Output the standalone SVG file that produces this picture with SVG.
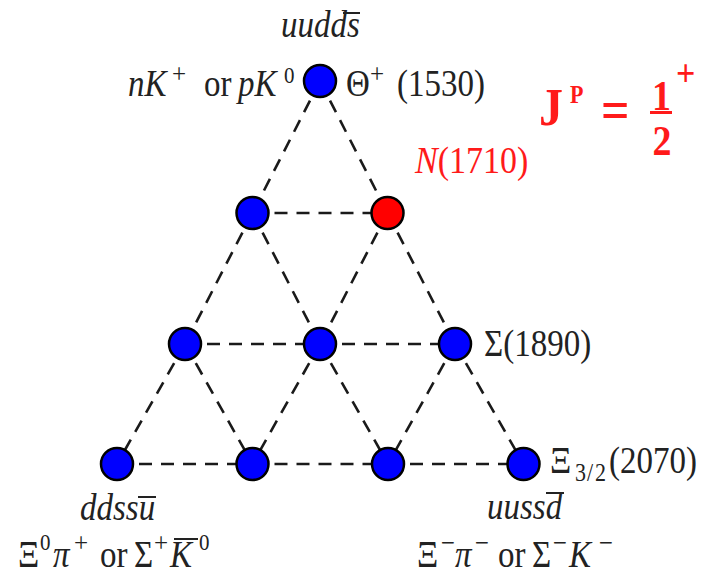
<svg xmlns="http://www.w3.org/2000/svg" width="703" height="577" viewBox="0 0 703 577">
<style>
.edge{stroke:#1a1a1a;stroke-width:2.6;stroke-dasharray:13 9;fill:none}
.node{fill:#0000ff;stroke:#000;stroke-width:2.5}
.red{fill:#ff0000}
.it{font-style:italic}
.rd{fill:#ff1a1a}
.b{font-weight:bold}
.ol{stroke:#222;stroke-width:2}
.f{font-family:"Liberation Serif","Times New Roman",serif}
</style>
<rect width="703" height="577" fill="#fff"/>
<g id="connectors">
<line class="edge" x1="320" y1="81" x2="252.5" y2="213"/>
<line class="edge" x1="320" y1="81" x2="387.5" y2="213"/>
<line class="edge" x1="252.5" y1="213" x2="387.5" y2="213"/>
<line class="edge" x1="252.5" y1="213" x2="185" y2="344"/>
<line class="edge" x1="252.5" y1="213" x2="320" y2="344"/>
<line class="edge" x1="387.5" y1="213" x2="320" y2="344"/>
<line class="edge" x1="387.5" y1="213" x2="455" y2="344"/>
<line class="edge" x1="185" y1="344" x2="320" y2="344"/>
<line class="edge" x1="320" y1="344" x2="455" y2="344"/>
<line class="edge" x1="185" y1="344" x2="117" y2="464"/>
<line class="edge" x1="185" y1="344" x2="252.5" y2="464"/>
<line class="edge" x1="320" y1="344" x2="252.5" y2="464"/>
<line class="edge" x1="320" y1="344" x2="388" y2="464"/>
<line class="edge" x1="455" y1="344" x2="388" y2="464"/>
<line class="edge" x1="455" y1="344" x2="523.5" y2="464"/>
<line class="edge" x1="117" y1="464" x2="252.5" y2="464"/>
<line class="edge" x1="252.5" y1="464" x2="388" y2="464"/>
<line class="edge" x1="388" y1="464" x2="523.5" y2="464"/>
</g>
<g class="f" font-size="33" fill="#222">
<g id="theta">
<circle class="node" cx="320" cy="81" r="16"/>
<text transform="translate(0,37) scale(1,1.12)" class="it"><tspan x="281">uudds</tspan></text>
<line class="ol" x1="343" y1="13" x2="360" y2="13"/>
<text transform="translate(0,96) scale(1,1.12)"><tspan x="128" class="it">nK</tspan><tspan x="172" dy="-12" font-size="25">+</tspan><tspan x="204" dy="12">or</tspan><tspan x="238" class="it">pK</tspan><tspan x="284" dy="-12" font-size="21">0</tspan></text>
<text transform="translate(0,96) scale(1,1.12)"><tspan x="346">Θ</tspan><tspan x="370" dy="-12" font-size="25">+</tspan><tspan x="397" dy="12">(1530)</tspan></text>
</g>
<g id="n-left"><circle class="node" cx="252.5" cy="213" r="16"/></g>
<g id="n1710">
<circle class="node red" cx="387.5" cy="213" r="16"/>
<text transform="translate(415,173) scale(1,1.12)" class="rd" font-size="34"><tspan class="it">N</tspan>(1710)</text>
</g>
<g id="sigma-left"><circle class="node" cx="185" cy="344" r="16"/></g>
<g id="sigma-mid"><circle class="node" cx="320" cy="344" r="16"/></g>
<g id="sigma1890">
<circle class="node" cx="455" cy="344" r="16"/>
<text transform="translate(484,356) scale(1,1.12)">Σ(1890)</text>
</g>
<g id="xi-left">
<circle class="node" cx="117" cy="464" r="16"/>
<text transform="translate(0,520) scale(1,1.12)" class="it"><tspan x="80">ddssu</tspan></text>
<line class="ol" x1="138" y1="497" x2="156" y2="497"/>
<text transform="translate(0,567) scale(1,1.12)"><tspan x="18">Ξ</tspan><tspan x="40" dy="-15" font-size="21">0</tspan><tspan x="53" dy="15" class="it">π</tspan><tspan x="74" dy="-13" font-size="25">+</tspan><tspan x="100" dy="13">or</tspan><tspan x="134">Σ</tspan><tspan x="154" dy="-13" font-size="25">+</tspan><tspan x="170" dy="13" class="it">K</tspan><tspan x="199" dy="-15" font-size="21">0</tspan></text>
<line class="ol" x1="174" y1="539" x2="198" y2="539"/>
</g>
<g id="xi-2"><circle class="node" cx="252.5" cy="464" r="16"/></g>
<g id="xi-3"><circle class="node" cx="388" cy="464" r="16"/></g>
<g id="xi2070">
<circle class="node" cx="523.5" cy="464" r="16"/>
<text transform="translate(550,473) scale(1,1.12)"><tspan x="0">Ξ</tspan><tspan x="25" dy="7" font-size="22">3</tspan><tspan x="37" font-size="22">/</tspan><tspan x="45" font-size="22">2</tspan><tspan x="59" dy="-7">(2070)</tspan></text>
<text transform="translate(0,519) scale(1,1.12)" class="it"><tspan x="487">uussd</tspan></text>
<line class="ol" x1="546" y1="493" x2="564" y2="493"/>
<text transform="translate(0,567) scale(1,1.12)"><tspan x="417">Ξ</tspan><tspan x="441" dy="-13" font-size="25">−</tspan><tspan x="455" dy="13" class="it">π</tspan><tspan x="475" dy="-13" font-size="25">−</tspan><tspan x="498" dy="13">or</tspan><tspan x="532">Σ</tspan><tspan x="553" dy="-13" font-size="25">−</tspan><tspan x="569" dy="13" class="it">K</tspan><tspan x="599" dy="-13" font-size="25">−</tspan></text>
</g>
<g id="jp">
<text transform="translate(539,125) scale(1,1.12)" class="rd b" font-size="48">J</text>
<text transform="translate(570,103) scale(1,1.12)" class="rd b" font-size="22">P</text>
<text transform="translate(601,129) scale(1,1.12)" class="rd b" font-size="50">=</text>
<text transform="translate(661.5,110) scale(1,1.12)" class="rd b" font-size="38" text-anchor="middle">1</text>
<line x1="650" y1="112.5" x2="672" y2="112.5" stroke="#ff1a1a" stroke-width="3"/>
<text transform="translate(662,155) scale(1,1.12)" class="rd b" font-size="38" text-anchor="middle">2</text>
<text transform="translate(676,86) scale(1,1.12)" class="rd b" font-size="34">+</text>
</g>
</g>
</svg>
